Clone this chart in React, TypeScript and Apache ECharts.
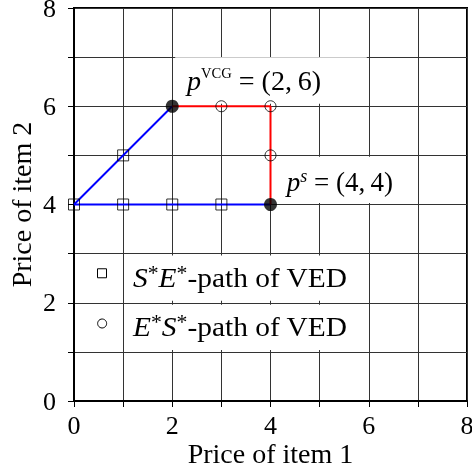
import React, { useEffect, useRef } from "react";
import * as echarts from "echarts";

const axisMin = 0;
const axisMax = 8;
const axisStep = 1;
const xAxisName = "Price of item 1";
const yAxisName = "Price of item 2";

const bluePathA = [[0, 4], [2, 6]];
const bluePathB = [[0, 4], [4, 4]];
const redPath = [[2, 6], [4, 6], [4, 4]];
const sePathPoints = [[0, 4], [1, 5], [1, 4], [2, 4], [3, 4]];
const esPathPoints = [[3, 6], [4, 6], [4, 5]];
const keyPoints = [[2, 6], [4, 4]];

const legendLabels = ["{it|S}{st|*}{it|E}{st|*}{n|-path of VED}", "{it|E}{st|*}{it|S}{st|*}{n|-path of VED}"];
const vcgLabel = "{it|p}{sc|VCG}{n| = (2,\u20096)}";
const psLabel = "{it|p}{sup|s}{n| = (4,\u20094)}";

const serif = "'Liberation Serif', 'Times New Roman', serif";

const richStyles = {
  it: { fontFamily: serif, fontSize: 27, fontStyle: "italic", lineHeight: 30, fill: "#000", color: "#000" },
  n: { fontFamily: serif, fontSize: 27, lineHeight: 30, fill: "#000", color: "#000" },
  sc: { fontFamily: serif, fontSize: 14, lineHeight: 16, verticalAlign: "top", fill: "#000", color: "#000" },
  sup: { fontFamily: serif, fontSize: 18, fontStyle: "italic", lineHeight: 18, verticalAlign: "top", fill: "#000", color: "#000" },
  st: { fontFamily: serif, fontSize: 20, lineHeight: 22, verticalAlign: "top", fill: "#000", color: "#000" },
};

export default function App() {
  const ref = useRef<HTMLDivElement>(null);
  useEffect(() => {
    const chart = echarts.init(ref.current!, null, { renderer: "svg" });
    const axisCommon = {
      type: "value",
      min: axisMin,
      max: axisMax,
      interval: axisStep,
      nameLocation: "middle",
      nameTextStyle: { fontFamily: serif, fontSize: 28, color: "#000", lineHeight: 22 },
      axisLine: { show: true, lineStyle: { color: "#000", width: 2 } },
      axisTick: { show: true, length: 6, lineStyle: { color: "#000", width: 1 } },
      splitLine: { show: true, lineStyle: { color: "#333", width: 1 } },
      axisLabel: {
        fontFamily: serif,
        fontSize: 26,
        lineHeight: 20,
        color: "#000",
        formatter: (v: number) => (v % 2 === 0 ? String(v) : ""),
      },
    };
    chart.setOption({
      animation: false,
      grid: {
        left: 74, top: 8, width: 393, height: 393, show: true, borderColor: "#000", borderWidth: 2,
        containLabel: false, outerBoundsMode: "none",
      },
      xAxis: {
        ...axisCommon, name: xAxisName, nameGap: 41, nameMoveOverlap: false,
        axisLabel: { ...axisCommon.axisLabel, margin: 14 },
      },
      yAxis: {
        ...axisCommon, name: yAxisName, nameGap: 42, nameMoveOverlap: false,
        axisLabel: { ...axisCommon.axisLabel, margin: 18 },
      },
      series: [
        { type: "line", data: bluePathA, symbol: "none", lineStyle: { color: "#0000ff", width: 2 }, z: 3 },
        { type: "line", data: bluePathB, symbol: "none", lineStyle: { color: "#0000ff", width: 2 }, z: 3 },
        { type: "line", data: redPath, symbol: "none", lineStyle: { color: "#ff0000", width: 2 }, z: 3 },
        {
          type: "scatter", data: sePathPoints, symbol: "rect", symbolSize: 11, clip: false, z: 5,
          itemStyle: { color: "rgba(0,0,0,0)", borderColor: "#000", borderWidth: 1 },
        },
        {
          type: "scatter", data: esPathPoints, symbol: "circle", symbolSize: 11, clip: false, z: 5,
          itemStyle: { color: "rgba(0,0,0,0)", borderColor: "#000", borderWidth: 1 },
        },
        {
          type: "scatter", data: keyPoints, symbol: "circle", symbolSize: 13, clip: false, z: 6,
          itemStyle: { color: "#000" },
        },
      ],
    });

    const px = (p: number[]) => chart.convertToPixel({ gridIndex: 0 }, p) as number[];
    const box = (x0: number, y0: number, x1: number, y1: number) => {
      const a = px([x0, y0]);
      const b = px([x1, y1]);
      return {
        type: "rect",
        z: 1,
        shape: { x: Math.min(a[0], b[0]), y: Math.min(a[1], b[1]), width: Math.abs(b[0] - a[0]), height: Math.abs(b[1] - a[1]) },
        style: { fill: "#fff" },
      };
    };
    const label = (text: string, x: number, y: number, sx: number) => {
      const p = px([x, y]);
      return {
        type: "text",
        z: 20,
        x: p[0],
        y: p[1],
        scaleX: sx,
        style: { text, rich: richStyles, verticalAlign: "middle", align: "left", fontFamily: serif, fontSize: 27, fill: "#000" },
      };
    };
    const sq = px([0.57, 2.6]);
    const ci = px([0.57, 1.6]);
    chart.setOption({
      graphic: [
        box(2.06, 7.0, 5.96, 6.05),
        label(vcgLabel, 2.3, 6.52, 1.04),
        box(4.05, 4.97, 6.96, 4.03),
        label(psLabel, 4.33, 4.46, 1.0),
        box(1.05, 2.96, 5.96, 2.04),
        box(1.05, 1.96, 5.96, 1.04),
        label(legendLabels[0], 1.2, 2.5, 1.09),
        label(legendLabels[1], 1.2, 1.5, 1.09),
        {
          type: "rect", z: 20,
          shape: { x: sq[0] - 4.5, y: sq[1] - 4.5, width: 9, height: 9 },
          style: { fill: "none", stroke: "#000", lineWidth: 1 },
        },
        {
          type: "circle", z: 20,
          shape: { cx: ci[0], cy: ci[1], r: 4.5 },
          style: { fill: "none", stroke: "#000", lineWidth: 1 },
        },
      ],
    });
    return () => chart.dispose();
  }, []);
  return <div ref={ref} style={{ position: "fixed", left: 0, top: 0, width: 472, height: 470 }} />;
}
